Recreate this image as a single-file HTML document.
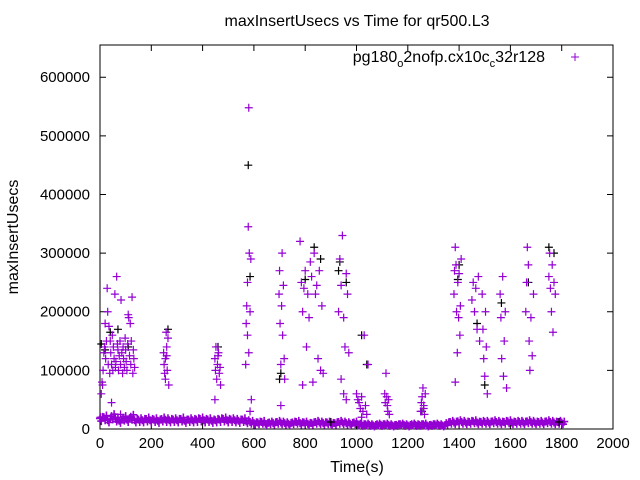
<!DOCTYPE html>
<html><head><meta charset="utf-8"><style>
body{margin:0;background:#fff}
svg{display:block;font-family:"Liberation Sans",sans-serif}
</style></head><body>
<svg id="chart" width="640" height="480">
<text x="357" y="26" font-size="16" text-anchor="middle">maxInsertUsecs vs Time for qr500.L3</text>
<text x="357" y="472" font-size="16" text-anchor="middle">Time(s)</text>
<text transform="translate(18,237) rotate(-90)" font-size="16" text-anchor="middle">maxInsertUsecs</text>
<g><text x="545" y="62" font-size="16" text-anchor="end">pg180<tspan font-size="11" dy="5">o</tspan><tspan dy="-5">2nofp.cx10c</tspan><tspan font-size="11" dy="5">c</tspan><tspan dy="-5">32r128</tspan></text>
<path d="M571 57h8M575 53v8" stroke="#9400d3" stroke-width="1"/></g>
<g id="axes"></g><g id="marks"></g>
</svg>
<script>
const xTicks=[0,200,400,600,800,1000,1200,1400,1600,1800,2000];
const yTicks=[0,100000,200000,300000,400000,500000,600000];
const baseT=[0,15,30,45,60,75,90,105,120,135,150,165,180,195,210,225,240,255,270,285,300,315,330,345,360,375,390,405,420,435,450,465,480,495,510,525,540,555,570,585,600,615,630,645,660,675,690,705,720,735,750,765,780,795,810,825,840,855,870,885,900,915,930,945,960,975,990,1005,1020,1035,1050,1065,1080,1095,1110,1125,1140,1155,1170,1185,1200,1215,1230,1245,1260,1275,1290,1305,1320,1335,1350,1365,1380,1395,1410,1425,1440,1455,1470,1485,1500,1515,1530,1545,1560,1575,1590,1605,1620,1635,1650,1665,1680,1695,1710,1725,1740,1755,1770,1785,1800];
const baseV=[18,20,15,22,17,14,19,16,21,15,16,15,17,15,16,14,17,16,15,16,15,17,14,16,15,16,17,15,16,14,15,16,17,15,16,15,14,16,13,12,10,11,12,9,11,10,12,11,10,9,11,12,10,11,9,10,12,11,10,11,9,10,12,11,10,9,11,8,7,8,7,6,8,7,8,7,6,7,8,7,6,8,7,7,8,6,7,8,7,6,10,12,11,13,12,11,12,13,11,12,12,11,13,12,11,12,13,11,12,12,11,13,12,11,12,11,13,12,11,12,11].map(v=>v*1000);
const pT=[2,5,8,10,12,15,18,20,22,25,28,30,32,35,38,40,42,45,48,50,52,55,58,60,62,65,68,70,72,75,78,80,82,85,88,90,92,95,98,100,102,105,108,110,112,115,118,120,122,125,128,130,132,135,45,60,80,100,
248,250,252,255,258,260,262,265,268,255,260,448,450,452,455,458,460,462,465,468,470,448,
568,570,572,575,578,580,582,585,588,590,575,580,585,698,700,702,705,708,710,712,715,718,720,705,
780,785,790,795,800,805,810,815,820,825,830,835,840,845,850,855,860,865,870,790,
930,935,940,945,950,955,960,965,970,940,950,960,1000,1005,1010,1015,1020,1025,1030,1035,1040,1045,1020,
1110,1112,1115,1118,1120,1122,1125,1128,1250,1253,1256,1259,1262,1265,1268,1262,
1380,1382,1385,1388,1390,1393,1395,1398,1400,1403,1405,1408,1385,1450,1455,1460,1465,1470,1475,1480,
1490,1493,1496,1500,1503,1506,1510,1560,1563,1566,1570,1573,1576,1580,1585,
1660,1663,1666,1670,1673,1676,1680,1685,1690,1750,1753,1756,1760,1763,1766,1770,1775];
const pV=[20,60,80,75,100,130,140,180,120,150,240,200,110,175,95,150,130,110,160,100,140,120,230,105,115,260,145,135,100,125,150,110,220,130,95,140,120,105,155,135,115,100,145,195,190,125,180,110,150,225,95,135,120,105,45,20,25,22,
130,110,95,120,165,140,100,155,75,85,125,120,100,140,85,110,125,130,95,105,75,50,
110,180,210,250,345,548,300,200,290,50,160,130,30,230,270,180,110,210,300,160,245,120,85,40,
320,250,200,240,270,140,230,190,285,260,80,300,230,245,120,270,100,210,95,75,
200,290,245,330,190,140,265,230,130,85,60,50,60,50,45,35,55,30,160,40,25,110,20,
60,45,95,55,40,30,50,25,30,45,55,70,35,25,60,40,
230,270,310,280,200,130,250,190,265,160,210,290,80,220,250,200,240,170,260,150,
230,170,120,90,200,140,60,230,190,120,260,90,150,200,70,
200,250,310,280,150,100,190,125,230,260,300,240,200,280,165,250,230].map(v=>v*1000);
const kT=[5,20,40,70,110,265,460,578,585,700,705,800,835,860,930,935,960,1020,1040,1255,1395,1400,1470,1500,1565,1670,1750,1770,1790,900];
const kV=[145,135,165,170,140,170,140,450,260,85,95,255,310,290,270,285,250,160,110,30,255,280,180,75,215,250,310,300,12,12].map(v=>v*1000);

const X0=100,X1=613,Y0=429,Y1=45,XMAX=2000,YMAX=655000;
const sx=t=>X0+t/XMAX*(X1-X0);
const sy=v=>Y0-v/YMAX*(Y0-Y1);
const NS='http://www.w3.org/2000/svg';
const axes=document.getElementById('axes');
const marks=document.getElementById('marks');
function mk(tag,attrs,parent){const e=document.createElementNS(NS,tag);for(const k in attrs)e.setAttribute(k,attrs[k]);parent.appendChild(e);return e;}
const frame=mk('rect',{x:X0,y:Y1,width:X1-X0,height:Y0-Y1,fill:'none',stroke:'#000','stroke-width':1},axes);


xTicks.forEach(t=>{const x=sx(t);
 const tk=mk('path',{d:`M${x} ${Y0}v-6M${x} ${Y1}v6`,stroke:'#000'},axes);
 
 
 const l=mk('text',{x:x,y:Y0+19,'font-size':15,'text-anchor':'middle'},axes);l.textContent=t;
 
 });
yTicks.forEach(v=>{const y=sy(v);
 const tk=mk('path',{d:`M${X0} ${y}h6M${X1} ${y}h-6`,stroke:'#000'},axes);
 
 
 const l=mk('text',{x:X0-10,y:y+5,'font-size':15,'text-anchor':'end'},axes);l.textContent=v;
 
 });
function plus(t,v,c,name,w){const x=sx(t),y=sy(v);
 const p=mk('path',{d:`M${x-4} ${y}h8M${x} ${y-4}v8`,stroke:c,'stroke-width':w||1.2},marks);
 
 }
baseT.forEach((t,i)=>{
 plus(t,baseV[i],'#9400d3','baseline-point',1.6);
 plus(t+5,baseV[i]*0.75,'#9400d3','baseline-point',1.6);
 plus(t+10,baseV[i]*1.15,'#9400d3','baseline-point',1.6);
});
kT.forEach((t,i)=>plus(t,kV[i],'#000','black-point'));
pT.forEach((t,i)=>plus(t,pV[i],'#9400d3','data-point'));
</script>
</body></html>
